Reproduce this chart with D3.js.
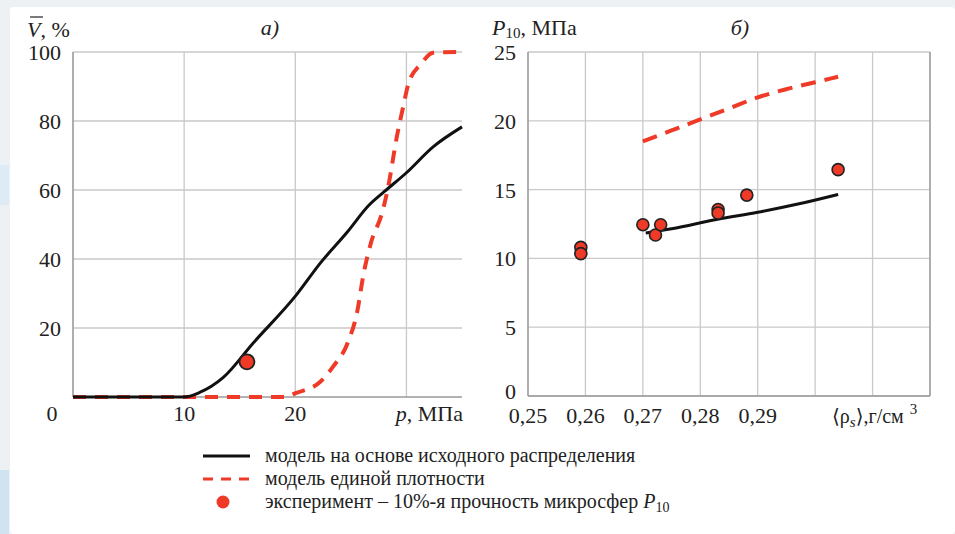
<!DOCTYPE html>
<html>
<head>
<meta charset="utf-8">
<script src="https://cdn.jsdelivr.net/npm/d3@7"></script>
<style>
  body { margin: 0; background: #eef1f3; }
  #chart text { font-family: "Liberation Serif", "Times New Roman", Times, "DejaVu Serif", serif; }
</style>
</head>
<body>
<svg id="chart" width="955" height="534"></svg>
<script>
// panel a): V vs p
var pTicks = [0, 10, 20, 30];
var pLabels = [0, 10, 20];
var vTicks = [20, 40, 60, 80, 100];
var blackP = [0, 10, 11.35, 13.5, 16.2, 20.1, 22.25, 24.7, 26.6, 28, 30, 32.4, 35];
var blackV = [0, 0, 1.25, 5.6, 15.6, 29.6, 38.8, 47.9, 55.5, 59.5, 65, 72.5, 78.3];
var redP = [0, 19, 20.1, 22.25, 23.4, 24.7, 25.6, 26.1, 26.8, 27.8, 28.3, 29.2, 29.7, 30.2, 31.3, 32.4, 35];
var redV = [0, 0, 1.2, 4.4, 8.8, 15.6, 25.2, 34.9, 44.6, 53.3, 60, 76.5, 84, 91, 96.5, 99.8, 100];
var expP = [15.65];
var expV = [10.2];

// panel б): P10 vs density
var rhoTicks = [0.25, 0.26, 0.27, 0.28, 0.29, 0.30, 0.31, 0.32];
var rhoLabels = ["0,25", "0,26", "0,27", "0,28", "0,29"];
var p10Ticks = [0, 5, 10, 15, 20, 25];
var modelRho = [0.2705, 0.275, 0.283, 0.29, 0.297, 0.304];
var modelP10 = [11.85, 12.15, 12.85, 13.35, 13.95, 14.65];
var uniRho = [0.270, 0.275, 0.280, 0.285, 0.290, 0.295, 0.300, 0.304];
var uniP10 = [18.5, 19.3, 20.1, 20.9, 21.7, 22.3, 22.8, 23.2];
var ptRho = [0.2592, 0.2592, 0.2700, 0.2722, 0.2731, 0.2831, 0.2831, 0.2881, 0.3040];
var ptP10 = [10.8, 10.35, 12.45, 11.7, 12.45, 13.55, 13.3, 14.6, 16.45];

var legendLabels = ["модель на основе исходного распределения", "модель единой плотности", "эксперимент – 10%-я прочность микросфер "];

var svg = d3.select("#chart");
var RED = "#ee3a26", GRID = "#c9c9c9", AXIS = "#9a9a9a", INK = "#222";

svg.append("rect").attr("x", 10).attr("y", 7).attr("width", 945).attr("height", 527).attr("rx", 4).attr("fill", "#fff");
svg.append("rect").attr("x", 0).attr("y", 165).attr("width", 9).attr("height", 40).attr("fill", "#dcebf5");
svg.append("rect").attr("x", 0).attr("y", 470).attr("width", 9).attr("height", 64).attr("fill", "#cfe3f1");

function panel(o) {
  var g = svg.append("g");
  var x = d3.scaleLinear().domain(o.xd).range([o.x0, o.x1]);
  var y = d3.scaleLinear().domain(o.yd).range([o.y0, o.y1]);
  g.selectAll(".hg").data(o.yt).enter().append("line")
    .attr("x1", o.x0).attr("x2", o.x1)
    .attr("y1", function(d) { return y(d); }).attr("y2", function(d) { return y(d); })
    .attr("stroke", GRID).attr("stroke-width", 1.3);
  g.selectAll(".vg").data(o.xt).enter().append("line")
    .attr("x1", function(d) { return x(d); }).attr("x2", function(d) { return x(d); })
    .attr("y1", o.y0).attr("y2", o.y1)
    .attr("stroke", GRID).attr("stroke-width", 1.3);
  g.append("line").attr("x1", o.x0).attr("x2", o.x1).attr("y1", o.y0).attr("y2", o.y0)
    .attr("stroke", AXIS).attr("stroke-width", 1.6);
  g.append("line").attr("x1", o.x0).attr("x2", o.x0).attr("y1", o.y0).attr("y2", o.y1)
    .attr("stroke", AXIS).attr("stroke-width", 1.4);
  g.selectAll(".yl").data(o.ytl).enter().append("text")
    .attr("x", o.x0 - 12).attr("y", function(d) { return y(d) + (d === 0 ? 3 : 8); })
    .attr("text-anchor", "end").attr("font-size", 22).attr("fill", INK).text(function(d) { return d; });
  return { g: g, x: x, y: y };
}

// ---- panel a)
var A = panel({ xd: [0, 35], yd: [0, 100], x0: 73, x1: 462, y0: 397, y1: 52,
  xt: pTicks, yt: vTicks, ytl: vTicks });
A.g.selectAll(".xl").data(pLabels).enter().append("text")
  .attr("x", function(d) { return d === 0 ? A.x(d) - 21 : A.x(d); }).attr("y", 421)
  .attr("text-anchor", "middle").attr("font-size", 22).attr("fill", INK).text(function(d) { return d; });

var lineA = d3.line().curve(d3.curveMonotoneX).x(function(d) { return A.x(d[0]); }).y(function(d) { return A.y(d[1]); });
A.g.append("path").datum(d3.zip(redP, redV)).attr("d", lineA)
  .attr("fill", "none").attr("stroke", RED).attr("stroke-width", 4).attr("stroke-dasharray", "13,9");
A.g.append("path").datum(d3.zip(blackP, blackV)).attr("d", lineA)
  .attr("fill", "none").attr("stroke", "#111").attr("stroke-width", 3);
A.g.selectAll(".pt").data(d3.zip(expP, expV)).enter().append("circle")
  .attr("cx", function(d) { return A.x(d[0]); }).attr("cy", function(d) { return A.y(d[1]); })
  .attr("r", 7.5).attr("fill", RED).attr("stroke", "#222").attr("stroke-width", 1.8);

var tA = svg.append("text").attr("x", 27).attr("y", 37).attr("font-size", 22).attr("fill", INK);
tA.append("tspan").attr("font-style", "italic").text("V");
tA.append("tspan").text(", %");
svg.append("line").attr("x1", 30).attr("x2", 43).attr("y1", 17).attr("y2", 17).attr("stroke", INK).attr("stroke-width", 1.2);
svg.append("text").attr("x", 270).attr("y", 35).attr("font-size", 22).attr("font-style", "italic").attr("fill", INK).attr("text-anchor", "middle").text("а)");
var tP = svg.append("text").attr("x", 463).attr("y", 421).attr("font-size", 22).attr("fill", INK).attr("text-anchor", "end");
tP.append("tspan").attr("font-style", "italic").text("p");
tP.append("tspan").text(", МПа");

// ---- panel б)
var B = panel({ xd: [0.25, 0.32], yd: [0, 25], x0: 528, x1: 930, y0: 396, y1: 52,
  xt: rhoTicks, yt: p10Ticks, ytl: p10Ticks });
B.g.append("line").attr("x1", 930).attr("x2", 930).attr("y1", 396).attr("y2", 52)
  .attr("stroke", AXIS).attr("stroke-width", 1.4);
B.g.selectAll(".xl").data(rhoLabels).enter().append("text")
  .attr("x", function(d, i) { return B.x(rhoTicks[i]); }).attr("y", 423)
  .attr("text-anchor", "middle").attr("font-size", 22).attr("fill", INK).text(function(d) { return d; });

var lineB = d3.line().curve(d3.curveMonotoneX).x(function(d) { return B.x(d[0]); }).y(function(d) { return B.y(d[1]); });
B.g.append("path").datum(d3.zip(uniRho, uniP10)).attr("d", lineB)
  .attr("fill", "none").attr("stroke", RED).attr("stroke-width", 4).attr("stroke-dasharray", "15,9");
B.g.append("path").datum(d3.zip(modelRho, modelP10)).attr("d", lineB)
  .attr("fill", "none").attr("stroke", "#111").attr("stroke-width", 3);
B.g.selectAll(".pt").data(d3.zip(ptRho, ptP10)).enter().append("circle")
  .attr("cx", function(d) { return B.x(d[0]); }).attr("cy", function(d) { return B.y(d[1]); })
  .attr("r", 6).attr("fill", RED).attr("stroke", "#222").attr("stroke-width", 1.6);

var tB = svg.append("text").attr("x", 492).attr("y", 35).attr("font-size", 22).attr("fill", INK);
tB.append("tspan").attr("font-style", "italic").text("P");
tB.append("tspan").attr("font-size", 15).attr("dy", 3).text("10");
tB.append("tspan").attr("dy", -3).text(", МПа");
svg.append("text").attr("x", 740).attr("y", 35).attr("font-size", 22).attr("font-style", "italic").attr("fill", INK).attr("text-anchor", "middle").text("б)");
var tR = svg.append("text").attr("x", 832).attr("y", 423).attr("font-size", 20).attr("fill", INK);
tR.append("tspan").text("⟨ρ");
tR.append("tspan").attr("font-size", 15).attr("font-style", "italic").attr("dy", 4).text("s");
tR.append("tspan").attr("dy", -4).text("⟩,г/см");
tR.append("tspan").attr("font-size", 15).attr("dx", 6).attr("dy", -9).text("3");

// ---- legend
var lg = svg.append("g");
var ly = [456, 479, 502];
lg.append("line").attr("x1", 203).attr("x2", 250).attr("y1", ly[0]).attr("y2", ly[0]).attr("stroke", "#111").attr("stroke-width", 3);
lg.append("line").attr("x1", 203).attr("x2", 250).attr("y1", ly[1]).attr("y2", ly[1]).attr("stroke", RED).attr("stroke-width", 3).attr("stroke-dasharray", "10,8");
lg.append("circle").attr("cx", 223).attr("cy", ly[2]).attr("r", 6.5).attr("fill", RED);
lg.selectAll(".lt").data(legendLabels).enter().append("text")
  .attr("x", 265).attr("y", function(d, i) { return ly[i] + 6; })
  .attr("font-size", 20).attr("fill", INK).text(function(d) { return d; });
var last = lg.select("text:last-of-type");
last.append("tspan").attr("font-style", "italic").text("P");
last.append("tspan").attr("font-size", 14).attr("dy", 4).text("10");
</script>
</body>
</html>
